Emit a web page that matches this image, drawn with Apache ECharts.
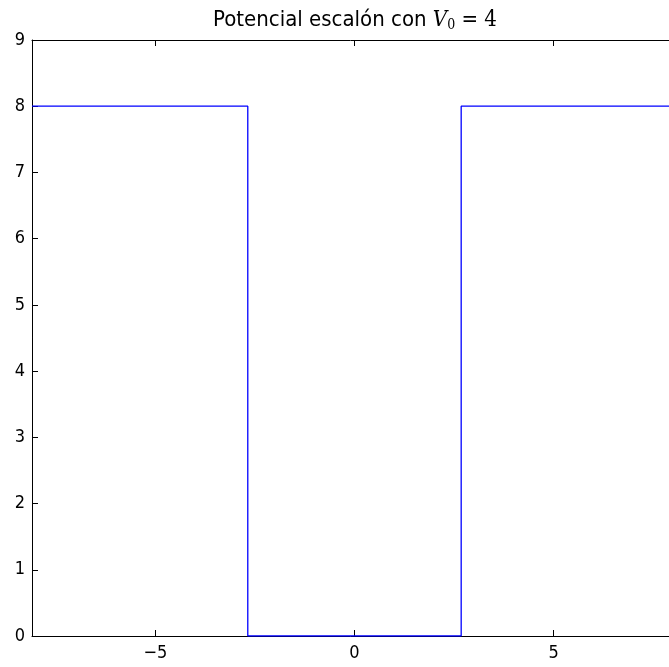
<!DOCTYPE html>
<html><head><meta charset="utf-8">
<script src="https://cdn.jsdelivr.net/npm/echarts@6/dist/echarts.min.js"></script>
<style>html,body{margin:0;padding:0;background:#fff}#c{width:669px;height:667px}</style>
</head><body><div id="c"></div>
<script>
var stepX = [-8.1, -2.68, -2.68, 2.68, 2.68, 7.9];
var stepY = [8, 8, 0, 0, 8, 8];
var xTicks = [-5, 0, 5];
var yTicks = [0, 1, 2, 3, 4, 5, 6, 7, 8, 9];
var xRange = [-8.1, 7.9];
var yRange = [0, 9];

var data = stepX.map(function (x, i) { return [x, stepY[i]]; });
var font = '"DejaVu Sans Condensed", "DejaVu Sans"';
var serif = '"DejaVu Serif Condensed", "DejaVu Serif"';
var fmt = function (v) { return String(v).replace('-', '\u2212'); };

var chart = echarts.init(document.getElementById('c'), null, {renderer: 'canvas'});
chart.setOption({
  animation: false,
  backgroundColor: '#fff',
  title: {
    text: 'Potencial escalón con {v|V}{s|0}{e| = 4}',
    left: 350, top: 3, textAlign: 'center',
    textStyle: {
      fontFamily: font, fontSize: 22, fontWeight: 'normal', color: '#000',
      rich: {
        v: {fontFamily: serif, fontStyle: 'italic', fontSize: 22, color: '#000'},
        s: {fontFamily: serif, fontSize: 14, color: '#000', verticalAlign: 'bottom', padding: [10, 0, 0, 0]},
        e: {fontFamily: serif, fontSize: 22, color: '#000'}
      }
    }
  },
  grid: {left: 32, right: 0, top: 40, bottom: 31, containLabel: false},
  xAxis: [{
    type: 'value', min: xRange[0], max: xRange[1],
    axisLine: {show: true, onZero: false, lineStyle: {color: '#000', width: 1}},
    axisTick: {show: true, inside: true, length: 6, customValues: xTicks, lineStyle: {color: '#000'}},
    axisLabel: {customValues: xTicks, formatter: fmt, fontFamily: font, fontSize: 18, color: '#000', margin: 8},
    splitLine: {show: false}
  }, {
    type: 'value', position: 'top', min: xRange[0], max: xRange[1],
    axisLine: {show: true, onZero: false, lineStyle: {color: '#000', width: 1}},
    axisTick: {show: true, inside: true, length: 6, customValues: xTicks, lineStyle: {color: '#000'}},
    axisLabel: {show: false},
    splitLine: {show: false}
  }],
  yAxis: [{
    type: 'value', min: yRange[0], max: yRange[1], interval: 1,
    axisLine: {show: true, onZero: false, lineStyle: {color: '#000', width: 1}},
    axisTick: {show: true, inside: true, length: 6, lineStyle: {color: '#000'}},
    axisLabel: {fontFamily: font, fontSize: 18, color: '#000', margin: 7,
      formatter: function (v) { return yTicks.indexOf(v) >= 0 ? fmt(v) : ''; }},
    splitLine: {show: false}
  }],
  series: [{
    type: 'line', data: data, xAxisIndex: 0, yAxisIndex: 0,
    showSymbol: false, symbol: 'none',
    lineStyle: {color: '#0000ff', width: 1.3}
  }]
});
</script></body></html>
